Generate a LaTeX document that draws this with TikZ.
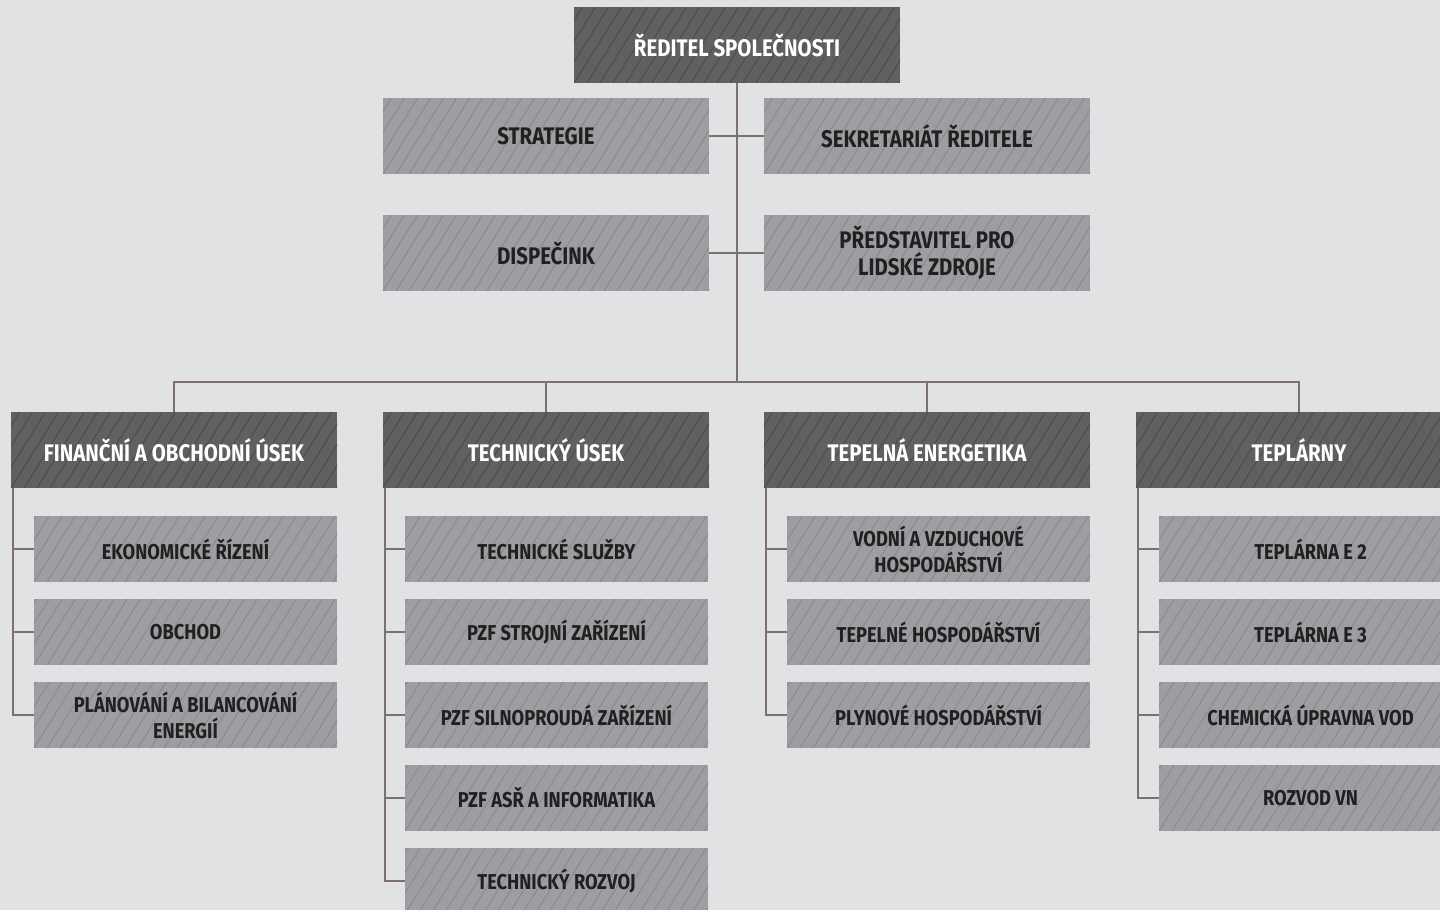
\documentclass[tikz,border=0pt]{standalone}
\usepackage{fontspec}
\setmainfont{Fira Sans}[FakeStretch=0.85]
\definecolor{bg}{HTML}{E1E2E4}
\definecolor{darkbox}{HTML}{606062}
\definecolor{darkhatch}{HTML}{4A4A4C}
\definecolor{lightbox}{HTML}{9D9EA1}
\definecolor{lighthatch}{HTML}{86878A}
\definecolor{conn}{HTML}{7D716D}
\definecolor{txtdark}{HTML}{231F20}
\begin{document}
\begin{tikzpicture}[x=1pt,y=1pt,
  hatchbox/.style={rectangle, inner sep=0pt, align=center,
    path picture={\foreach \i in {-30,...,40}{\draw[#1, line width=0.8pt]
      ([xshift=\i*13pt]path picture bounding box.south west) -- ++(58:160pt);}}},
  topbox/.style={hatchbox=darkhatch, fill=darkbox, text=white,
    minimum width=326pt, minimum height=76pt, font=\bfseries\fontsize{24}{26}\selectfont},
  staffbox/.style={hatchbox=lighthatch, fill=lightbox, text=txtdark,
    minimum width=326pt, minimum height=76pt, font=\bfseries\fontsize{24}{27}\selectfont},
  headbox/.style={hatchbox=darkhatch, fill=darkbox, text=white,
    minimum width=326pt, minimum height=76pt, font=\bfseries\fontsize{24}{26}\selectfont},
  childbox/.style={hatchbox=lighthatch, fill=lightbox, text=txtdark,
    minimum width=303pt, minimum height=66pt, font=\bfseries\fontsize{21.5}{26}\selectfont},
  connline/.style={draw=conn, line width=1.4pt}
]
\useasboundingbox (0,0) rectangle (1440,-910);
\fill[bg] (0,0) rectangle (1440,-910);
\clip (0,0) rectangle (1440,-910);

% top
\node[topbox] (top) at (737,-45) {ŘEDITEL SPOLEČNOSTI};
\node[staffbox] (strat) at (546,-136) {STRATEGIE};
\node[staffbox] (sekr) at (927,-136) {SEKRETARIÁT ŘEDITELE};
\node[staffbox] (disp) at (546,-253) {DISPEČINK};
\node[staffbox] (pred) at (927,-253) {PŘEDSTAVITEL PRO\\LIDSKÉ ZDROJE};
\coordinate (bus) at (737,-382);

% headers
\node[headbox] (h1) at (174,-450) {FINANČNÍ A OBCHODNÍ ÚSEK};
\node[headbox] (h2) at (546,-450) {TECHNICKÝ ÚSEK};
\node[headbox] (h3) at (927,-450) {TEPELNÁ ENERGETIKA};
\node[headbox] (h4) at (1299,-450) {TEPLÁRNY};

% children col 1
\node[childbox] (c11) at (185.5,-549) {EKONOMICKÉ ŘÍZENÍ};
\node[childbox] (c12) at (185.5,-632) {OBCHOD};
\node[childbox] (c13) at (185.5,-715) {PLÁNOVÁNÍ A BILANCOVÁNÍ\\ENERGIÍ};
% col 2
\node[childbox] (c21) at (556.5,-549) {TECHNICKÉ SLUŽBY};
\node[childbox] (c22) at (556.5,-632) {PZF STROJNÍ ZAŘÍZENÍ};
\node[childbox] (c23) at (556.5,-715) {PZF SILNOPROUDÁ ZAŘÍZENÍ};
\node[childbox] (c24) at (556.5,-798) {PZF ASŘ A INFORMATIKA};
\node[childbox] (c25) at (556.5,-881) {TECHNICKÝ ROZVOJ};
% col 3
\node[childbox] (c31) at (938.5,-549) {VODNÍ A VZDUCHOVÉ\\HOSPODÁŘSTVÍ};
\node[childbox] (c32) at (938.5,-632) {TEPELNÉ HOSPODÁŘSTVÍ};
\node[childbox] (c33) at (938.5,-715) {PLYNOVÉ HOSPODÁŘSTVÍ};
% col 4
\node[childbox] (c41) at (1310.5,-549) {TEPLÁRNA E 2};
\node[childbox] (c42) at (1310.5,-632) {TEPLÁRNA E 3};
\node[childbox] (c43) at (1310.5,-715) {CHEMICKÁ ÚPRAVNA VOD};
\node[childbox] (c44) at (1310.5,-798) {ROZVOD VN};

% connectors
\draw[connline] (top.south) -- (bus);
\draw[connline] (strat.east) -- (sekr.west);
\draw[connline] (disp.east) -- (pred.west);
\draw[connline] (h1.north) |- (h4.north |- bus) -- (h4.north);
\draw[connline] (h2.north) -- (h2.north |- bus);
\draw[connline] (h3.north) -- (h3.north |- bus);

\foreach \h/\c in {h1/c11,h1/c12,h1/c13,h2/c21,h2/c22,h2/c23,h2/c24,h2/c25,h3/c31,h3/c32,h3/c33,h4/c41,h4/c42,h4/c43,h4/c44}{
  \draw[connline] ([xshift=2pt]\h.south west) |- (\c.west);
}
\end{tikzpicture}
\end{document}
